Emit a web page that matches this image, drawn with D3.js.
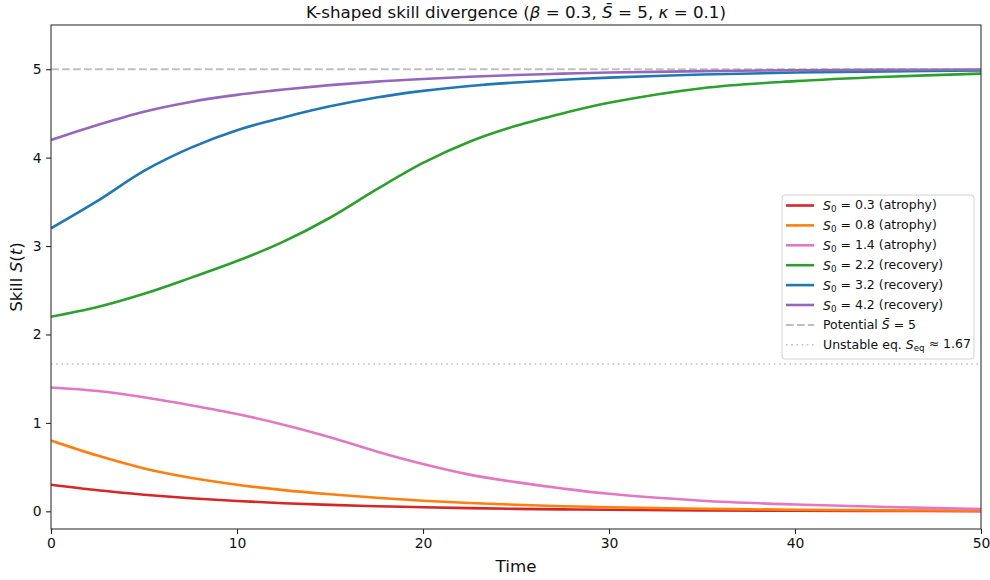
<!DOCTYPE html>
<html>
<head>
<meta charset="utf-8">
<script src="https://cdn.jsdelivr.net/npm/d3@7"></script>
<style>
  body { margin: 0; background: #fff; }
  svg { display: block; font-family: "DejaVu Sans", sans-serif; }
</style>
</head>
<body>
<div id="svg-container"></div>
<script>
const times = [0, 2.5, 5, 7.5, 10, 12.5, 15, 17.5, 20, 22.5, 25, 27.5, 30, 35, 40, 45, 50]

const s03 = [0.30, 0.238, 0.188, 0.148, 0.117, 0.092, 0.073, 0.058, 0.046, 0.036, 0.028, 0.022, 0.017, 0.010, 0.006, 0.004, 0.002]
const s08 = [0.80, 0.63, 0.485, 0.38, 0.30, 0.24, 0.193, 0.153, 0.12, 0.094, 0.074, 0.058, 0.046, 0.029, 0.018, 0.011, 0.007]
const s14 = [1.40, 1.36, 1.29, 1.20, 1.10, 0.98, 0.838, 0.677, 0.535, 0.415, 0.33, 0.258, 0.198, 0.12, 0.077, 0.048, 0.027]
const s22 = [2.20, 2.31, 2.46, 2.64, 2.83, 3.05, 3.32, 3.64, 3.94, 4.18, 4.36, 4.50, 4.62, 4.785, 4.865, 4.915, 4.95]
const s32 = [3.20, 3.51, 3.85, 4.11, 4.31, 4.455, 4.58, 4.68, 4.755, 4.81, 4.85, 4.88, 4.905, 4.94, 4.962, 4.976, 4.985]
const s42 = [4.20, 4.37, 4.52, 4.63, 4.71, 4.77, 4.82, 4.86, 4.89, 4.915, 4.935, 4.95, 4.962, 4.978, 4.988, 4.993, 4.996]

const startValues = ['0.3', '0.8', '1.4', '2.2', '3.2', '4.2']
const regimes = ['atrophy', 'atrophy', 'atrophy', 'recovery', 'recovery', 'recovery']
const seriesValues = [s03, s08, s14, s22, s32, s42]
const seriesColors = ['#d62728', '#ff7f0e', '#e377c2', '#2ca02c', '#1f77b4', '#9467bd']

const potential = 5
const unstableEq = 5 / 3

const xTicks = [0, 10, 20, 30, 40, 50]
const yTicks = [0, 1, 2, 3, 4, 5]

const width = 990
const height = 580
const margin = { top: 25, right: 9, bottom: 51, left: 51 }
const innerWidth = width - margin.left - margin.right
const innerHeight = height - margin.top - margin.bottom

const svg = d3.select('#svg-container')
    .append('svg').attr('width', width).attr('height', height)

const xScale = d3.scaleLinear().domain([0, 50]).range([0, innerWidth])
const yScale = d3.scaleLinear().domain([-0.2, 5.5]).range([innerHeight, 0])

const g = svg.append('g')
    .attr('transform', `translate(${margin.left}, ${margin.top})`)

// tekst met cursieve / subscript stukjes
const richText = (sel, parts) => {
    parts.forEach(p => {
        const ts = sel.append('tspan').text(p.t)
        if (p.i) ts.attr('font-style', 'italic')
        if (p.sub) ts.attr('font-size', '0.7em').attr('dy', '0.25em')
        if (p.up) ts.attr('dy', '-0.25em')
    })
    return sel
}

// curves
const line = d3.line()
    .x((d, i) => xScale(times[i]))
    .y(d => yScale(d))
    .curve(d3.curveCatmullRom.alpha(0.5))

const clip = svg.append('clipPath').attr('id', 'plot-clip')
clip.append('rect').attr('width', innerWidth).attr('height', innerHeight)

const curves = g.append('g').attr('clip-path', 'url(#plot-clip)')
seriesValues.forEach((vals, i) => {
    curves.append('path')
        .datum(vals)
        .attr('d', line)
        .attr('fill', 'none')
        .attr('stroke', seriesColors[i])
        .attr('stroke-width', 2.6)
})

// horizontale referentielijnen
curves.append('line')
    .attr('x1', xScale(0)).attr('x2', xScale(50))
    .attr('y1', yScale(potential)).attr('y2', yScale(potential))
    .attr('stroke', '#808080').attr('stroke-opacity', 0.5)
    .attr('stroke-width', 2).attr('stroke-dasharray', '7.7 3.3')
curves.append('line')
    .attr('x1', xScale(0)).attr('x2', xScale(50))
    .attr('y1', yScale(unstableEq)).attr('y2', yScale(unstableEq))
    .attr('stroke', '#808080').attr('stroke-opacity', 0.5)
    .attr('stroke-width', 1.6).attr('stroke-dasharray', '1.6 3.6')

// assen
const xAxis = d3.axisBottom(xScale).tickValues(xTicks).tickFormat(d3.format('d')).tickSize(4.9).tickPadding(4)
const yAxis = d3.axisLeft(yScale).tickValues(yTicks).tickFormat(d3.format('d')).tickSize(4.9).tickPadding(4.5)

const xAxisG = g.append('g').attr('transform', `translate(0, ${innerHeight})`).call(xAxis)
const yAxisG = g.append('g').call(yAxis)
;[xAxisG, yAxisG].forEach(a => {
    a.selectAll('.domain').remove()
    a.selectAll('.tick line').attr('stroke', '#222').attr('stroke-width', 1.1)
    a.selectAll('.tick text').attr('fill', '#111').attr('font-size', 13.9)
        .attr('font-family', '"DejaVu Sans", sans-serif')
})

g.append('rect')
    .attr('width', innerWidth).attr('height', innerHeight)
    .attr('fill', 'none').attr('stroke', '#333').attr('stroke-width', 1.1)

// labels
richText(svg.append('text')
    .attr('x', margin.left + innerWidth / 2).attr('y', 18)
    .attr('text-anchor', 'middle').attr('font-size', 16.7).attr('fill', '#111'),
    [{ t: 'K-shaped skill divergence (' }, { t: 'β', i: true }, { t: ' = 0.3, ' },
     { t: 'S\u0304', i: true }, { t: ' = 5, ' }, { t: 'κ', i: true }, { t: ' = 0.1)' }])

svg.append('text')
    .attr('x', margin.left + innerWidth / 2).attr('y', 572)
    .attr('text-anchor', 'middle').attr('font-size', 16.7).attr('fill', '#111')
    .text('Time')

richText(svg.append('text')
    .attr('transform', `translate(22, ${margin.top + innerHeight / 2}) rotate(-90)`)
    .attr('text-anchor', 'middle').attr('font-size', 16.7).attr('fill', '#111'),
    [{ t: 'Skill ' }, { t: 'S', i: true }, { t: '(' }, { t: 't', i: true }, { t: ')' }])

// legenda
const legend = svg.append('g').attr('transform', 'translate(782, 195)')
legend.append('rect')
    .attr('width', 192).attr('height', 164).attr('rx', 3)
    .attr('fill', '#fff').attr('fill-opacity', 0.8)
    .attr('stroke', '#d0d0d0').attr('stroke-width', 1)

const legendItems = seriesValues.map((v, i) => ({
    color: seriesColors[i], width: 2.6, dash: null, opacity: 1,
    parts: [{ t: 'S', i: true }, { t: '0', sub: true }, { t: ` = ${startValues[i]} (${regimes[i]})`, up: true }]
}))
legendItems.push({
    color: '#808080', width: 2, dash: '7.7 3.3', opacity: 0.5,
    parts: [{ t: 'Potential ' }, { t: 'S\u0304', i: true }, { t: ` = ${potential}` }]
})
legendItems.push({
    color: '#808080', width: 1.6, dash: '1.6 3.6', opacity: 0.5,
    parts: [{ t: 'Unstable eq. ' }, { t: 'S', i: true }, { t: 'eq', sub: true }, { t: ` ≈ ${unstableEq.toFixed(2)}`, up: true }]
})

legendItems.forEach((item, i) => {
    const row = legend.append('g').attr('transform', `translate(0, ${10.5 + i * 19.9})`)
    row.append('line')
        .attr('x1', 4).attr('x2', 32).attr('y1', 0).attr('y2', 0)
        .attr('stroke', item.color).attr('stroke-width', item.width)
        .attr('stroke-opacity', item.opacity)
        .attr('stroke-dasharray', item.dash)
    richText(row.append('text')
        .attr('x', 41).attr('y', 4.5).attr('font-size', 12.5).attr('fill', '#111'),
        item.parts)
})
</script>
</body>
</html>
